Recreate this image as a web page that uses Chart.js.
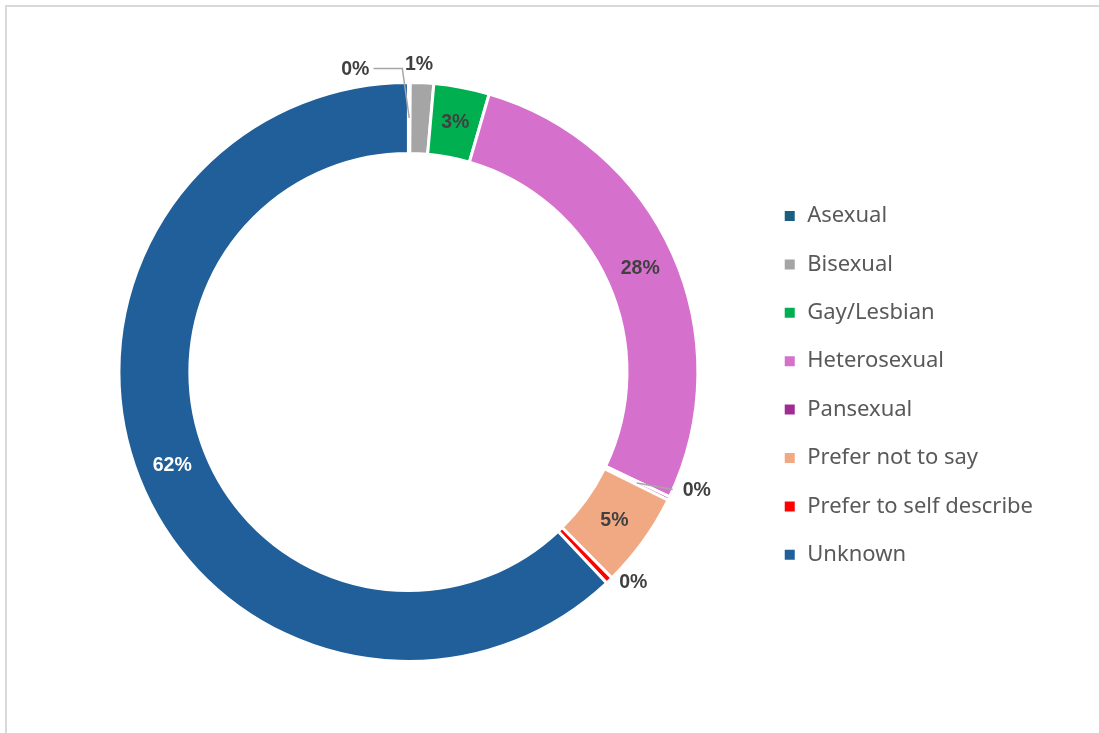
<!DOCTYPE html>
<html>
<head>
<meta charset="utf-8">
<script src="https://cdn.jsdelivr.net/npm/chart.js@4"></script>
<style>
  html, body { margin: 0; padding: 0; background: #fff; }
  #frame { position: absolute; left: 5px; top: 5px; width: 1200px; height: 800px;
           border-left: 2px solid #d9d9d9; border-top: 2px solid #d9d9d9; }
  #wrap { position: absolute; left: 0; top: 0; width: 1099px; height: 733px; }
</style>
</head>
<body>
<div id="frame"></div>
<div id="wrap"><canvas id="orientationChart"></canvas></div>
<script>
// ===== data =====
const categories = ['Asexual', 'Bisexual', 'Gay/Lesbian', 'Heterosexual', 'Pansexual',
                    'Prefer not to say', 'Prefer to self describe', 'Unknown'];
const shares = [0.1, 1.3, 3.1, 27.6, 0.2, 5.3, 0.4, 62.0];
const sliceColors = ['#1b5e82', '#a5a5a5', '#00b050', '#d670cd', '#a02b93',
                     '#f1a983', '#ff0000', '#215f9a'];

// labels drawn on/around the ring (no datalabels plugin available)
const sliceLabels = {
    id: 'sliceLabels',
    afterDatasetsDraw(chart, args, opts) {
        const ctx = chart.ctx;
        const meta = chart.getDatasetMeta(0);
        ctx.save();
        ctx.font = 'bold 19.5px "Liberation Sans", Arial, sans-serif';
        ctx.textAlign = 'center';
        ctx.textBaseline = 'middle';
        meta.data.forEach((arc, i) => {
            const p = arc.getProps(['x', 'y', 'startAngle', 'endAngle', 'innerRadius', 'outerRadius'], true);
            const mid = (p.startAngle + p.endAngle) / 2;
            const text = Math.round(shares[i]) + '%';
            const rMid = (p.innerRadius + p.outerRadius) / 2;
            const call = opts.callouts[i];
            if (!call) {
                ctx.fillStyle = i === 7 ? '#ffffff' : '#404040';
                ctx.fillText(text, p.x + Math.cos(mid) * rMid, p.y + Math.sin(mid) * rMid);
                return;
            }
            const ox = p.x + Math.cos(mid) * p.outerRadius;
            const oy = p.y + Math.sin(mid) * p.outerRadius;
            const lx = ox + call.dx, ly = oy + call.dy;
            const mx = p.x + Math.cos(mid) * rMid, my = p.y + Math.sin(mid) * rMid;
            const half = ctx.measureText(text).width / 2;
            ctx.strokeStyle = '#a6a6a6';
            ctx.lineWidth = 1.5;
            if (call.line === 'elbow') {
                ctx.beginPath();
                ctx.moveTo(mx, my);
                ctx.lineTo(ox - 7, oy - 14);
                ctx.lineTo(lx + half + 4, oy - 14);
                ctx.stroke();
            } else if (call.line === 'straight') {
                ctx.beginPath();
                ctx.moveTo(mx, my);
                ctx.lineTo(lx - half - 10, ly - 1);
                ctx.stroke();
            }
            ctx.fillStyle = '#404040';
            ctx.fillText(text, lx, ly);
        });
        ctx.restore();
    }
};

const ctx = document.getElementById('orientationChart').getContext('2d');
const orientationChart = new Chart(ctx, {
    type: 'doughnut',
    data: {
        labels: categories,
        datasets: [{
            data: shares,
            backgroundColor: sliceColors,
            borderColor: '#fff',
            borderWidth: 3,
            hoverOffset: 0
        }]
    },
    options: {
        responsive: true,
        maintainAspectRatio: false,
        animation: false,
        cutout: '75.5%',
        layout: { padding: { left: 60, right: 56, top: 81, bottom: 70 } },
        plugins: {
            tooltip: { enabled: false },
            legend: {
                position: 'right',
                title: { display: true, text: '', padding: 8.4, font: { size: 10, lineHeight: 1 } },
                labels: {
                    padding: 26.4,
                    boxWidth: 13,
                    boxHeight: 13,
                    color: '#595959',
                    font: { size: 22, family: '"Noto Sans", sans-serif' }
                }
            },
            sliceLabels: {
                callouts: {
                    0: { dx: -54, dy: -13, line: 'elbow' },
                    1: { dx: -3, dy: -18 },
                    4: { dx: 28, dy: -8, line: 'straight' },
                    6: { dx: 24, dy: 2 }
                }
            }
        }
    },
    plugins: [sliceLabels]
});
</script>
</body>
</html>
